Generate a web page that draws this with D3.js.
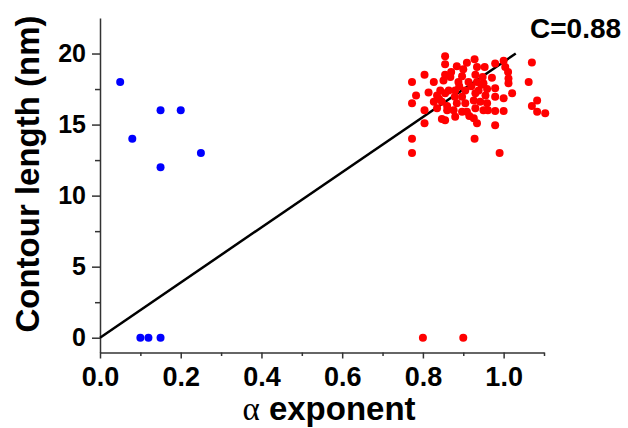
<!DOCTYPE html>
<html>
<head>
<meta charset="utf-8">
<script src="https://cdn.jsdelivr.net/npm/d3@7"></script>
<style>
  html, body { margin: 0; padding: 0; background: #fff; }
  svg { display: block; }
</style>
</head>
<body>
<svg id="chart" width="628" height="428"></svg>
<script>
// ---- data ----
const blueX = [0.05, 0.08, 0.15, 0.20, 0.25, 0.15, 0.10, 0.12, 0.15];
const blueY = [18, 14, 16, 16, 13, 12, 0, 0, 0];

const redX = [
  0.855, 0.928, 0.855, 0.884, 0.909, 0.934, 0.953, 0.979, 1.000, 1.004, 1.070,
  0.804, 0.855, 0.868, 0.897, 0.930, 0.948, 0.971, 1.011, 1.012,
  0.773, 0.827, 0.851, 0.888, 0.913, 0.934, 0.950, 1.062, 1.012,
  0.843, 0.864, 0.880, 0.905, 0.938, 0.959, 0.979,
  0.783, 0.814, 0.835, 0.855, 0.879, 0.897, 0.930, 0.955, 0.979, 1.000, 1.021,
  0.773, 0.827, 0.847, 0.884, 0.905, 0.926, 0.942, 0.959, 1.083, 1.070,
  0.804, 0.835, 0.860, 0.876, 0.897, 0.909, 0.930, 0.950, 0.961, 0.979, 1.000, 1.083, 1.103,
  0.804, 0.847, 0.855, 0.880, 0.926, 0.934, 0.979,
  0.773, 0.928, 0.773, 0.990,
  0.870, 0.890, 0.920, 0.860, 0.945, 0.900, 0.840, 0.915,
  0.80, 0.90
];
const redY = [
  19.8, 19.6, 19.25, 19.1, 19.35, 19.05, 19.05, 19.3, 19.5, 19.05, 19.37,
  18.5, 18.5, 18.35, 18.4, 18.5, 18.35, 18.3, 18.7, 18.25,
  18.0, 18.0, 18.1, 18.0, 18.0, 18.0, 17.9, 18.0, 17.9,
  17.4, 17.4, 17.4, 17.4, 17.4, 17.5, 17.55,
  17.05, 17.25, 17.05, 17.2, 16.95, 16.95, 17.2, 17.05, 16.95, 16.85, 17.2,
  16.5, 16.6, 16.6, 16.5, 16.5, 16.7, 16.6, 16.5, 16.7, 16.3,
  16.0, 16.15, 16.0, 16.0, 15.9, 15.9, 16.15, 16.0, 16.0, 15.95, 15.95, 15.9, 15.8,
  15.1, 15.4, 15.3, 15.55, 15.45, 15.1, 14.95,
  14.0, 14.0, 13.0, 13.0,
  18.7, 17.7, 17.7, 16.3, 17.8, 18.9, 16.8, 15.6,
  0, 0
];

const lineX = [0, 1.03];
const lineY = [0, 20.0];

const xTicks = [0.0, 0.2, 0.4, 0.6, 0.8, 1.0];
const xMinor = [0.1, 0.3, 0.5, 0.7, 0.9, 1.1];
const yTicks = [0, 5, 10, 15, 20];
const yMinor = [2.5, 7.5, 12.5, 17.5];
const annotation = "C=0.88";

// ---- layout ----
const svg = d3.select("#chart");
const x = d3.scaleLinear().domain([0, 1.1]).range([100, 544]);
const y = d3.scaleLinear().domain([-1.04, 22.5]).range([352.5, 18]);

const sans = "'Liberation Sans', Arial, Helvetica, sans-serif";
const axisColor = "#333";

// X axis
const gx = svg.append("g").attr("transform", `translate(0,${y.range()[0]})`);
gx.call(d3.axisBottom(x).tickValues(xTicks).tickFormat(d3.format(".1f"))
  .tickSizeInner(6).tickSizeOuter(0).tickPadding(8));
const gxm = svg.append("g").attr("transform", `translate(0,${y.range()[0]})`);
gxm.call(d3.axisBottom(x).tickValues(xMinor).tickFormat("").tickSizeInner(3.5).tickSizeOuter(0));
gxm.select(".domain").remove();

// Y axis
const gy = svg.append("g").attr("transform", `translate(${x.range()[0]},0)`);
gy.call(d3.axisLeft(y).tickValues(yTicks).tickFormat(d3.format("d"))
  .tickSizeInner(8).tickSizeOuter(0).tickPadding(6));
const gym = svg.append("g").attr("transform", `translate(${x.range()[0]},0)`);
gym.call(d3.axisLeft(y).tickValues(yMinor).tickFormat("").tickSizeInner(5).tickSizeOuter(0));
gym.select(".domain").remove();

svg.selectAll(".domain").attr("stroke", axisColor).attr("stroke-width", 1.5);
svg.selectAll(".tick line").attr("stroke", axisColor).attr("stroke-width", 1.5);
gx.selectAll(".tick text").attr("font-family", sans).attr("font-weight", "bold")
  .attr("font-size", 27).attr("fill", "#000");
gy.selectAll(".tick text").attr("font-family", sans).attr("font-weight", "bold")
  .attr("font-size", 25).attr("fill", "#000");

// Fit line
svg.append("line")
  .attr("x1", x(lineX[0])).attr("y1", y(lineY[0]))
  .attr("x2", x(lineX[1])).attr("y2", y(lineY[1]))
  .attr("stroke", "#000").attr("stroke-width", 2.5);

// Points
const blue = blueX.map((v, i) => ({ x: v, y: blueY[i] }));
const red = redX.map((v, i) => ({ x: v, y: redY[i] }));
svg.append("g").selectAll("circle").data(red).join("circle")
  .attr("cx", d => x(d.x)).attr("cy", d => y(d.y)).attr("r", 4).attr("fill", "#ff0000");
svg.append("g").selectAll("circle").data(blue).join("circle")
  .attr("cx", d => x(d.x)).attr("cy", d => y(d.y)).attr("r", 4).attr("fill", "#0000ff");

// Annotation
svg.append("text").attr("x", 530).attr("y", 38)
  .attr("font-family", sans).attr("font-weight", "bold").attr("font-size", 28)
  .attr("fill", "#000").text(annotation);

// Axis titles
const xt = svg.append("text").attr("x", 329).attr("y", 420)
  .attr("text-anchor", "middle").attr("fill", "#000");
xt.append("tspan").attr("font-family", "'Liberation Serif', 'Times New Roman', serif")
  .attr("font-size", 33).attr("font-weight", "normal").text("α");
xt.append("tspan").attr("font-family", sans).attr("font-weight", "bold")
  .attr("font-size", 33).text(" exponent");

svg.append("text")
  .attr("transform", "translate(39,174) rotate(-90)")
  .attr("text-anchor", "middle")
  .attr("font-family", sans).attr("font-weight", "bold").attr("font-size", 33)
  .attr("fill", "#000").text("Contour length (nm)");
</script>
</body>
</html>
